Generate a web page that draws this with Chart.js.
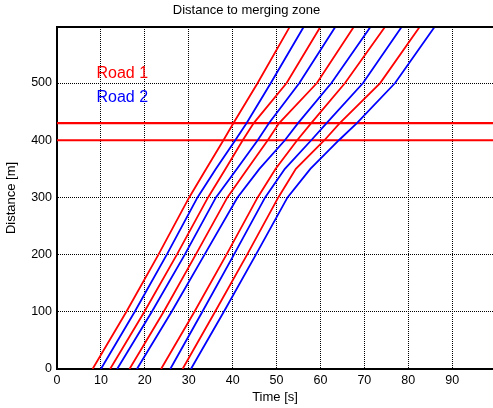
<!DOCTYPE html>
<html>
<head>
<meta charset="utf-8">
<title>Distance to merging zone</title>
<script src="https://cdn.jsdelivr.net/npm/chart.js@4.4.1/dist/chart.umd.min.js"></script>
<style>
  html, body { margin: 0; padding: 0; background: #fff; }
  #wrap { width: 493px; height: 408px; }
</style>
</head>
<body>
<div id="wrap"><canvas id="chart"></canvas></div>
<script>
const distances = [0, 100, 200, 300, 350, 400, 430, 500, 597];

// passing times (s) per vehicle, Road 1
const road1Times = [
    [8.1, 15.8, 23.1, 30.1, 34.0, 37.9, 40.2, 45.7, 52.9],
    [12.1, 19.9, 27.3, 34.4, 38.4, 42.3, 44.8, 52.3, 59.9],
    [16.5, 24.3, 31.6, 38.8, 43.4, 48.0, 50.6, 59.2, 67.5],
    [23.7, 31.3, 38.6, 45.7, 49.8, 54.7, 57.9, 65.6, 74.6],
    [28.6, 36.0, 43.3, 50.4, 54.4, 60.9, 64.4, 73.6, 82.5]
];

// passing times (s) per vehicle, Road 2
const road2Times = [
    [10.0, 17.7, 25.0, 32.0, 36.2, 40.6, 43.2, 48.7, 56.1],
    [13.7, 21.6, 29.1, 36.2, 41.0, 45.7, 48.3, 55.2, 63.3],
    [18.2, 26.1, 33.6, 41.1, 46.1, 51.9, 54.9, 62.5, 71.3],
    [25.8, 33.1, 40.3, 47.4, 51.9, 57.9, 61.4, 69.7, 78.4],
    [30.5, 38.0, 45.3, 52.5, 57.7, 64.2, 68.3, 77.0, 85.9]
];

// merging zone boundaries (m)
const zoneBounds = [400, 430];

const xTicks = [0, 10, 20, 30, 40, 50, 60, 70, 80, 90];
const yTicks = [0, 100, 200, 300, 400, 500];
const xMax = 99.3;
const yMax = 598;

const legendNames = ['Road 1', 'Road 2'];
const legendColors = ['#ff0000', '#0000ff'];

const FONT = 'Arial, "Liberation Sans", Helvetica, sans-serif';

function track(times, color) {
    return {
        data: times.map((t, i) => ({ x: t, y: distances[i] })),
        borderColor: color,
        borderWidth: 1.8,
        pointRadius: 0,
        tension: 0,
        fill: false
    };
}

const datasets = [];
road1Times.forEach((t, i) => {
    datasets.push(track(t, legendColors[0]));
    datasets.push(track(road2Times[i], legendColors[1]));
});
zoneBounds.forEach(d => {
    datasets.push({
        data: [{ x: 0, y: d }, { x: xMax, y: d }],
        borderColor: '#ff0000',
        borderWidth: 2.2,
        pointRadius: 0,
        fill: false
    });
});

// top frame line + Road labels
const extras = {
    id: 'extras',
    afterDraw(chart) {
        const { ctx, chartArea, scales: { x, y } } = chart;
        ctx.save();
        ctx.strokeStyle = '#000';
        ctx.lineWidth = 2;
        ctx.beginPath();
        ctx.moveTo(chartArea.left, chartArea.top);
        ctx.lineTo(chartArea.right, chartArea.top);
        ctx.stroke();

        ctx.font = '16px ' + FONT;
        ctx.textBaseline = 'middle';
        ctx.textAlign = 'left';
        const labelY = [517, 475];
        legendNames.forEach((name, i) => {
            ctx.fillStyle = legendColors[i];
            ctx.fillText(name, x.getPixelForValue(9), y.getPixelForValue(labelY[i]));
        });
        ctx.restore();
    }
};

new Chart(document.getElementById('chart'), {
    type: 'line',
    data: { datasets },
    options: {
        responsive: true,
        maintainAspectRatio: false,
        animation: false,
        layout: { padding: 0 },
        plugins: {
            legend: { display: false },
            tooltip: { enabled: false },
            title: {
                display: true,
                text: 'Distance to merging zone',
                color: '#000',
                font: { family: FONT, size: 13, weight: 'normal' },
                padding: { top: 3, bottom: 8.4 }
            }
        },
        scales: {
            x: {
                type: 'linear',
                min: 0,
                max: xMax,
                afterBuildTicks: s => { s.ticks = xTicks.map(v => ({ value: v })); },
                afterFit: s => { s.height = 39; },
                ticks: {
                    color: '#000',
                    padding: 4,
                    autoSkip: false,
                    maxRotation: 0,
                    font: { family: FONT, size: 12.5 }
                },
                grid: { color: '#000', lineWidth: 1, drawTicks: false },
                border: { color: '#000', width: 2, dash: [1, 1] },
                title: {
                    display: true,
                    text: 'Time [s]',
                    color: '#000',
                    font: { family: FONT, size: 13 },
                    padding: { top: 0, bottom: 3 }
                }
            },
            y: {
                type: 'linear',
                min: 0,
                max: yMax,
                afterBuildTicks: s => { s.ticks = yTicks.map(v => ({ value: v })); },
                afterFit: s => { s.width = 57; },
                ticks: {
                    color: '#000',
                    padding: 5,
                    font: { family: FONT, size: 12.5 }
                },
                grid: { color: '#000', lineWidth: 1, drawTicks: false },
                border: { color: '#000', width: 2, dash: [1, 1] },
                title: {
                    display: true,
                    text: 'Distance [m]',
                    color: '#000',
                    font: { family: FONT, size: 13 },
                    padding: { top: 4, bottom: 0 }
                }
            }
        }
    },
    plugins: [extras]
});
</script>
</body>
</html>
